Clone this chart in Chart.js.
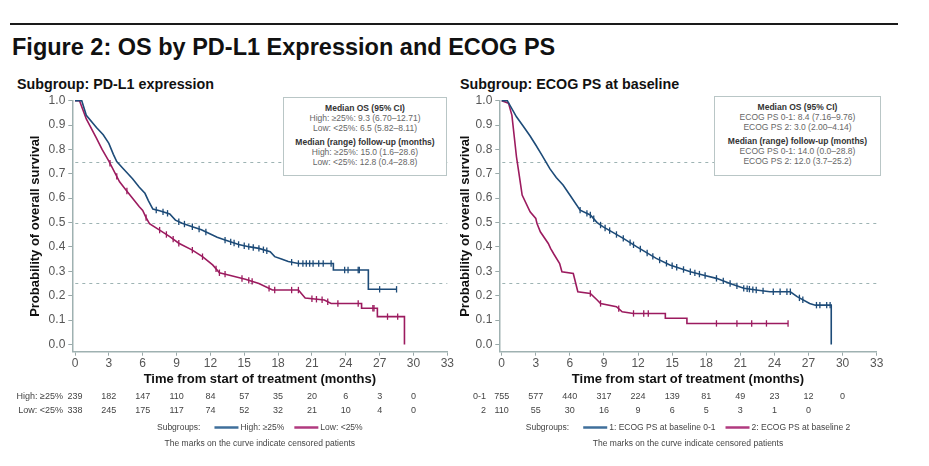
<!DOCTYPE html>
<html><head><meta charset="utf-8">
<script src="https://cdn.jsdelivr.net/npm/chart.js@4/dist/chart.umd.min.js"></script>
<style>
body{margin:0;width:929px;height:466px;overflow:hidden;background:#fff;font-family:"Liberation Sans",Arial,Helvetica,sans-serif;position:relative}
.abs{position:absolute}
#rule{left:10px;top:23px;width:888px;height:2px;background:#1a1a1a}
#title{left:12px;top:33px;font-size:23.5px;font-weight:bold;color:#111;white-space:nowrap;line-height:28px}
.sub{font-size:14.3px;font-weight:bold;color:#111;white-space:nowrap;top:76px;line-height:16px}
.box{border:1px solid #b9c6c6;background:#fff;text-align:center;font-size:8.5px;line-height:10px;color:#666;box-sizing:border-box;padding-top:5px;white-space:nowrap}
.box b{color:#333;display:block}
.box .gap{margin-top:4px}
</style></head><body>
<div id="rule" class="abs"></div>
<div id="title" class="abs">Figure 2: OS by PD-L1 Expression and ECOG PS</div>
<div class="abs sub" style="left:17px">Subgroup: PD-L1 expression</div>
<div class="abs sub" style="left:460px">Subgroup: ECOG PS at baseline</div>
<div class="abs" style="left:0;top:88px;width:455px;height:378px"><canvas id="c1"></canvas></div>
<div class="abs" style="left:455px;top:88px;width:474px;height:378px"><canvas id="c2"></canvas></div>
<div class="abs box" style="left:283px;top:97px;width:164px;height:79px">
<b>Median OS (95% CI)</b>High: ≥25%: 9.3 (6.70–12.71)<br>Low: &lt;25%: 6.5 (5.82–8.11)
<b class="gap">Median (range) follow-up (months)</b>High: ≥25%: 15.0 (1.6–28.6)<br>Low: &lt;25%: 12.8 (0.4–28.8)
</div>
<div class="abs box" style="left:714px;top:96px;width:167px;height:80px">
<b>Median OS (95% CI)</b>ECOG PS 0-1: 8.4 (7.16–9.76)<br>ECOG PS 2: 3.0 (2.00–4.14)
<b class="gap">Median (range) follow-up (months)</b>ECOG PS 0-1: 14.0 (0.0–28.8)<br>ECOG PS 2: 12.0 (3.7–25.2)
</div>
<script>
// ---------- data ----------
const xTicks = [0,3,6,9,12,15,18,21,24,27,30,33];
const yTicks = [0,0.1,0.2,0.3,0.4,0.5,0.6,0.7,0.8,0.9,1.0];
const refLines = [0.25,0.5,0.75];
const riskMonths = [0,3,6,9,12,15,18,21,24,27,30];

// PD-L1 High >=25%
const highTime = [0,0.6,1.0,1.9,2.5,3.0,3.4,3.7,4.3,5.1,5.7,6.2,6.5,6.9,7.5,8.4,8.9,9.5,10.4,11.2,11.9,12.6,13.3,14.5,15.5,16.3,17.3,17.7,18.3,18.9,19.8,22.9,22.9,26.0,26.0,28.5];
const highSurv = [1.0,1.0,0.94,0.89,0.86,0.825,0.78,0.75,0.72,0.68,0.645,0.62,0.59,0.555,0.548,0.535,0.51,0.497,0.483,0.47,0.455,0.44,0.428,0.41,0.40,0.394,0.38,0.36,0.35,0.34,0.332,0.332,0.305,0.305,0.226,0.226];
const highCens = [7.2,7.8,8.2,9.2,9.7,10.4,11.0,11.6,13.3,13.8,14.1,14.5,15.0,15.4,15.8,16.3,16.7,17.0,19.2,19.8,20.2,20.5,20.8,21.1,21.6,22.0,22.7,23.9,24.2,25.1,25.2,27.0,28.5];
// PD-L1 Low <25%
const lowTime = [0,0.4,1.0,1.9,2.4,3.0,3.95,4.5,5.1,5.7,6.0,6.3,6.6,7.5,8.4,9.2,10.4,11.3,12.2,12.8,13.6,15.1,16.3,17.5,19.8,20.4,22.1,22.7,25.4,25.4,26.8,26.8,29.2,29.2];
const lowSurv = [1.0,1.0,0.925,0.846,0.80,0.752,0.667,0.635,0.60,0.565,0.55,0.52,0.495,0.469,0.442,0.415,0.387,0.36,0.326,0.294,0.285,0.267,0.25,0.223,0.223,0.19,0.182,0.168,0.168,0.148,0.148,0.114,0.114,0.0];
const lowCens = [3.1,3.7,4.6,6.3,7.5,8.1,8.7,9.2,10.4,11.3,12.5,12.8,13.3,14.8,15.4,15.7,17.2,17.7,19.2,19.8,21.0,21.4,21.9,22.4,23.3,25.1,26.4,26.5,27.7,28.6];
const highRisk = [239,182,147,110,84,57,35,20,6,3,0];
const lowRisk  = [338,245,175,117,74,52,32,21,10,4,0];

// ECOG PS 0-1
const ps01Time = [0,0.5,1.3,1.9,2.5,3.0,3.5,4.25,4.8,5.4,6.0,6.9,7.8,8.4,8.9,10.7,11.9,13.6,14.8,16.6,17.7,18.9,20.1,21.3,22.4,23.6,25.4,26.0,27.1,27.6,29.0,29.0];
const ps01Surv = [1.0,1.0,0.934,0.895,0.855,0.818,0.78,0.72,0.685,0.654,0.613,0.551,0.531,0.5,0.483,0.435,0.40,0.353,0.326,0.298,0.285,0.271,0.25,0.23,0.223,0.216,0.216,0.196,0.168,0.161,0.161,0.0];
const ps01Cens = [6.9,7.5,7.8,8.1,8.7,9.1,9.5,10.1,10.7,11.3,11.6,12.2,12.8,13.3,13.9,14.5,15.0,15.4,16.0,16.6,17.0,17.4,17.9,18.9,19.5,20.1,20.7,21.3,21.6,21.8,22.1,22.4,23.0,23.9,24.5,25.1,25.4,26.2,26.5,27.7,28.0,28.6,28.9];
// ECOG PS 2
const ps2Time = [0,0.6,0.9,1.3,1.5,1.8,2.5,3.0,3.1,3.4,4.1,4.3,4.6,5.1,5.3,6.3,6.7,7.8,8.4,8.7,10.1,10.6,11.6,14.4,14.4,16.3,16.3,25.2];
const ps2Surv = [1.0,0.99,0.94,0.77,0.708,0.613,0.544,0.517,0.497,0.462,0.414,0.394,0.37,0.332,0.298,0.291,0.216,0.209,0.182,0.168,0.155,0.134,0.127,0.127,0.107,0.107,0.086,0.086];
const ps2Cens = [7.8,8.7,10.3,11.6,12.5,12.9,18.9,20.7,22.0,23.3,25.2];
const ps01Risk = [755,577,440,317,224,139,81,49,23,12,0];
const ps2Risk  = [110,55,30,16,9,6,5,3,1,0];

// ---------- helpers ----------
const FONT = '"Liberation Sans", Arial, Helvetica, sans-serif';
function pts(ts, ss){ return ts.map((t,i)=>({x:t,y:ss[i]})); }
function onCurve(ts, ss, t){
  for (let i=1;i<ts.length;i++){
    if (t<=ts[i]){ const t0=ts[i-1],t1=ts[i]; if (t1===t0) return ss[i];
      return ss[i-1]+(t-t0)/(t1-t0)*(ss[i]-ss[i-1]); }
  }
  return ss[ss.length-1];
}

const extras = {
  id:'extras',
  beforeDatasetsDraw(chart){
    const {ctx, chartArea, scales:{y}} = chart;
    ctx.save();
    ctx.strokeStyle='#9db3b3'; ctx.lineWidth=1; ctx.setLineDash([3,4]);
    refLines.forEach(v=>{ const py=Math.round(y.getPixelForValue(v))+0.5;
      ctx.beginPath(); ctx.moveTo(chartArea.left+3,py); ctx.lineTo(chartArea.right,py); ctx.stroke(); });
    ctx.restore();
  },
  afterDraw(chart, args, o){
    const {ctx, scales:{x}} = chart;
    ctx.save();
    ctx.font = '9px '+FONT; ctx.textBaseline='middle';
    o.rows.forEach(r=>{
      ctx.fillStyle='#444'; ctx.textAlign='right';
      ctx.fillText(r.label, o.rowLabelX, r.y);
      ctx.textAlign='center';
      r.values.forEach((v,i)=>ctx.fillText(String(v), x.getPixelForValue(riskMonths[i]), r.y));
    });
    // legend
    ctx.font = '8.5px '+FONT;
    const cx = (x.left + x.right)/2;
    const head = 'Subgroups:';
    const wHead = ctx.measureText(head).width;
    const items = o.legend.map(l=>({...l, w: ctx.measureText(l.text).width}));
    let total = wHead + 14;
    items.forEach((it,i)=>{ total += 24 + 2 + it.w + (i<items.length-1?10:0); });
    let px = cx - total/2;
    const ly = o.legendY;
    ctx.textAlign='left'; ctx.fillStyle='#444';
    ctx.fillText(head, px, ly); px += wHead + 14;
    items.forEach((it,i)=>{
      ctx.strokeStyle=it.color; ctx.lineWidth=2.5; ctx.beginPath(); ctx.moveTo(px,ly); ctx.lineTo(px+24,ly); ctx.stroke();
      px += 26; ctx.fillStyle='#444'; ctx.fillText(it.text, px, ly); px += it.w + 10;
    });
    ctx.textAlign='center';
    ctx.fillText('The marks on the curve indicate censored patients', cx, o.footY);
    ctx.restore();
  }
};

function makeChart(id, cfg){
  const datasets = [];
  cfg.series.forEach(s=>{
    datasets.push({data:pts(s.t,s.s), showLine:true, pointRadius:0, borderColor:s.color, borderWidth:1.6, clip:false, tension:0});
    datasets.push({data:s.c.map(t=>({x:t,y:onCurve(s.t,s.s,t)})), showLine:false, pointStyle:'line', rotation:90, pointRadius:3.2, borderColor:s.color, borderWidth:1.3, clip:false});
  });
  return new Chart(document.getElementById(id), {
    type:'scatter',
    data:{datasets},
    options:{
      responsive:true, maintainAspectRatio:false, animation:false,
      events:[],
      layout:{padding:{left:0,top:12.7,right:cfg.padRight,bottom:0}},
      plugins:{legend:{display:false}, tooltip:{enabled:false}, extras:cfg.extras},
      scales:{
        x:{type:'linear', min:cfg.xMin, max:33,
          afterBuildTicks:s=>{s.ticks=xTicks.map(v=>({value:v}));},
          afterFit:s=>{s.height=114.3;},
          ticks:{autoSkip:false, maxRotation:0, padding:1, color:'#555', font:{family:FONT,size:12}},
          grid:{drawOnChartArea:false, drawTicks:true, tickLength:4, color:'#9aa9a9'},
          border:{display:true, color:'#9fb1b1', width:1.5},
          title:{display:true, text:'Time from start of treatment (months)', color:'#111', font:{family:FONT,size:13,weight:'bold'}, padding:{top:0,bottom:79.2}}
        },
        y:{type:'linear', min:-0.03, max:1.0,
          afterBuildTicks:s=>{s.ticks=yTicks.map(v=>({value:v}));},
          afterFit:s=>{s.width=cfg.yWidth;},
          ticks:{padding:3, color:'#555', font:{family:FONT,size:12}, callback:v=>v.toFixed(1)},
          grid:{drawOnChartArea:false, drawTicks:true, tickLength:4, color:'#9aa9a9'},
          border:{display:true, color:'#9fb1b1', width:1.5},
          title:{display:true, text:'Probability of overall survival', color:'#111', font:{family:FONT,size:13,weight:'bold'}, padding:{top:cfg.yTitlePad,bottom:0}}
        }
      }
    },
    plugins:[extras]
  });
}

const BLUE='#1d4b78', MAG='#9c1b5f', LBLUE='#3f6f9b', LMAG='#b13a7f';

makeChart('c1', {
  xMin:-0.24, yWidth:72.3, padRight:4.3, yTitlePad:27.2,
  series:[{t:highTime,s:highSurv,c:highCens,color:BLUE},{t:lowTime,s:lowSurv,c:lowCens,color:MAG}],
  extras:{rowLabelX:63, rows:[{label:'High: ≥25%',values:highRisk,y:309},{label:'Low: <25%',values:lowRisk,y:323}],
    legend:[{text:'High: ≥25%',color:LBLUE},{text:'Low: <25%',color:LMAG}], legendY:339.5, footY:355.5}
});
makeChart('c2', {
  xMin:-0.21, yWidth:44.3, padRight:52.3, yTitlePad:2.2,
  series:[{t:ps01Time,s:ps01Surv,c:ps01Cens,color:BLUE},{t:ps2Time,s:ps2Surv,c:ps2Cens,color:MAG}],
  extras:{rowLabelX:31, rows:[{label:'0-1',values:ps01Risk,y:309},{label:'2',values:ps2Risk,y:323}],
    legend:[{text:'1: ECOG PS at baseline 0-1',color:LBLUE},{text:'2: ECOG PS at baseline 2',color:LMAG}], legendY:339.5, footY:355.5}
});
</script>
</body></html>
